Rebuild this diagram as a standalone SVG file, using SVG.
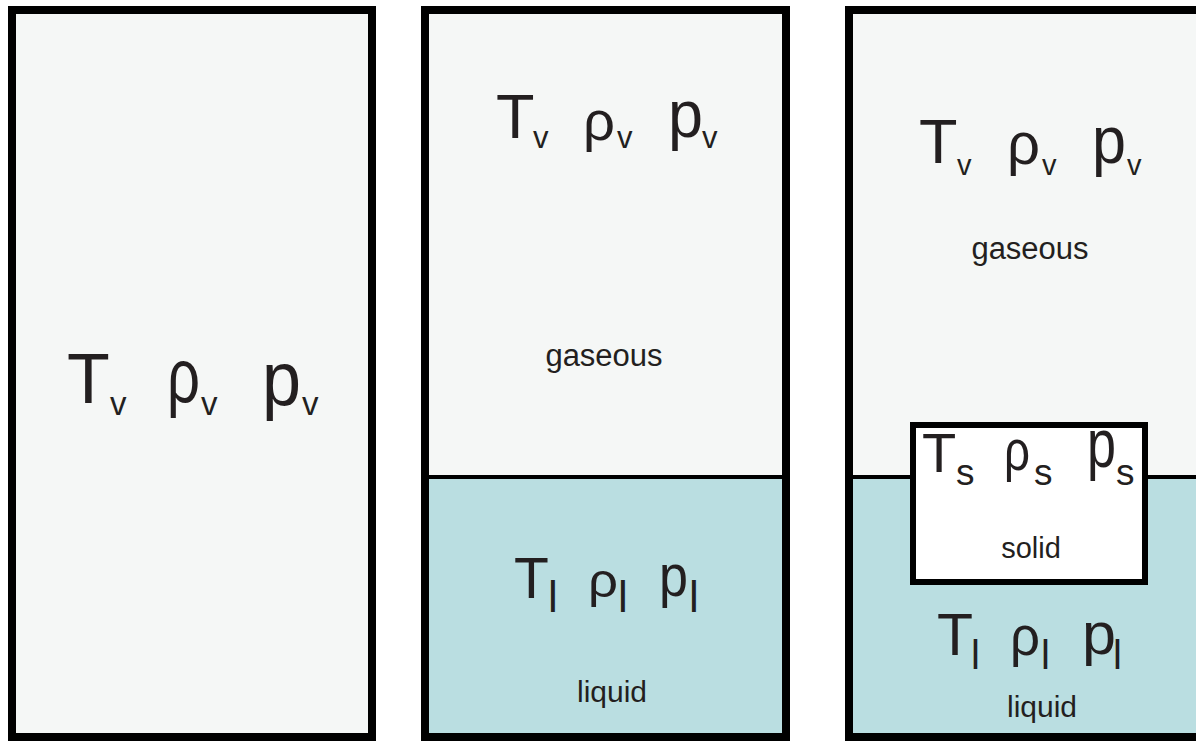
<svg xmlns="http://www.w3.org/2000/svg" width="1196" height="741" viewBox="0 0 1196 741">
  <style>
    .gas { fill: #f5f7f6; }
    .liq { fill: #badee1; }
    .frame { fill: none; stroke: #000; stroke-width: 8; }
    .line { stroke: #000; stroke-width: 4; }
    .sym { font-family: "Liberation Sans", Arial, sans-serif; fill: #231f20; }
    .lbl { font-family: "Liberation Sans", Arial, sans-serif; fill: #231f20; text-anchor: middle; }
  </style>
  <rect width="1196" height="741" fill="#ffffff"/>

  <!-- Panel 1: single vapour phase -->
  <g id="panel-vapour">
    <rect class="gas" x="12" y="10" width="360" height="727"/>
    <rect class="frame" x="12" y="10" width="360" height="727"/>
    <text class="sym"><tspan x="67" y="403" font-size="70">T</tspan><tspan x="110" y="415" font-size="33">v</tspan></text>
    <text class="sym"><tspan x="167" y="402" font-size="76" textLength="33" lengthAdjust="spacingAndGlyphs">ρ</tspan><tspan x="201" y="415" font-size="33">v</tspan></text>
    <text class="sym"><tspan x="262" y="405" font-size="76" textLength="39" lengthAdjust="spacingAndGlyphs">p</tspan><tspan x="302" y="415" font-size="33">v</tspan></text>
  </g>

  <!-- Panel 2: vapour over liquid -->
  <g id="panel-vapour-liquid">
    <rect class="gas" x="425" y="10" width="361" height="467"/>
    <rect class="liq" x="425" y="477" width="361" height="260"/>
    <line class="line" x1="425" y1="477" x2="786" y2="477"/>
    <rect class="frame" x="425" y="10" width="361" height="727"/>
    <text class="sym"><tspan x="496" y="138" font-size="63">T</tspan><tspan x="533" y="148" font-size="31">v</tspan></text>
    <text class="sym"><tspan x="583" y="140" font-size="55" textLength="32" lengthAdjust="spacingAndGlyphs">ρ</tspan><tspan x="617" y="148" font-size="31">v</tspan></text>
    <text class="sym"><tspan x="668" y="137" font-size="66" textLength="35" lengthAdjust="spacingAndGlyphs">p</tspan><tspan x="702" y="148" font-size="31">v</tspan></text>
    <text class="lbl" x="604" y="366" font-size="31">gaseous</text>
    <text class="sym"><tspan x="514" y="598" font-size="57">T</tspan><tspan x="548" y="612" font-size="44">l</tspan></text>
    <text class="sym"><tspan x="588" y="597" font-size="49" textLength="30" lengthAdjust="spacingAndGlyphs">ρ</tspan><tspan x="618" y="612" font-size="44">l</tspan></text>
    <text class="sym"><tspan x="659" y="596" font-size="59" textLength="29" lengthAdjust="spacingAndGlyphs">p</tspan><tspan x="689" y="612" font-size="44">l</tspan></text>
    <text class="lbl" x="612" y="702" font-size="30">liquid</text>
  </g>

  <!-- Panel 3: vapour, liquid and a solid body at the interface -->
  <g id="panel-three-phase">
    <rect class="gas" x="849" y="10" width="360" height="467"/>
    <rect class="liq" x="849" y="477" width="360" height="260"/>
    <line class="line" x1="849" y1="477" x2="1196" y2="477"/>
    <rect class="frame" x="849" y="10" width="360" height="727"/>
    <text class="sym"><tspan x="919" y="163" font-size="63">T</tspan><tspan x="957" y="175" font-size="29">v</tspan></text>
    <text class="sym"><tspan x="1007" y="164" font-size="60" textLength="33" lengthAdjust="spacingAndGlyphs">ρ</tspan><tspan x="1042" y="175" font-size="29">v</tspan></text>
    <text class="sym"><tspan x="1092" y="163" font-size="67" textLength="34" lengthAdjust="spacingAndGlyphs">p</tspan><tspan x="1127" y="175" font-size="29">v</tspan></text>
    <text class="lbl" x="1030" y="259" font-size="31">gaseous</text>
    <text class="sym"><tspan x="937" y="655" font-size="59">T</tspan><tspan x="971" y="669" font-size="40">l</tspan></text>
    <text class="sym"><tspan x="1010" y="655" font-size="55" textLength="30" lengthAdjust="spacingAndGlyphs">ρ</tspan><tspan x="1041" y="669" font-size="40">l</tspan></text>
    <text class="sym"><tspan x="1082" y="654" font-size="60" textLength="34" lengthAdjust="spacingAndGlyphs">p</tspan><tspan x="1113" y="669" font-size="40">l</tspan></text>
    <text class="lbl" x="1042" y="717" font-size="30">liquid</text>
  </g>

  <!-- Solid body -->
  <g id="solid">
    <rect x="913" y="425" width="232" height="157" fill="#ffffff" stroke="#000" stroke-width="6"/>
    <text class="sym"><tspan x="922" y="472" font-size="56">T</tspan><tspan x="956" y="485" font-size="37">s</tspan></text>
    <text class="sym"><tspan x="1004" y="470" font-size="57" textLength="26" lengthAdjust="spacingAndGlyphs">ρ</tspan><tspan x="1034" y="485" font-size="37">s</tspan></text>
    <text class="sym"><tspan x="1087" y="467" font-size="68" textLength="29" lengthAdjust="spacingAndGlyphs">p</tspan><tspan x="1116" y="485" font-size="37">s</tspan></text>
    <text class="lbl" x="1031" y="558" font-size="29">solid</text>
  </g>
</svg>
